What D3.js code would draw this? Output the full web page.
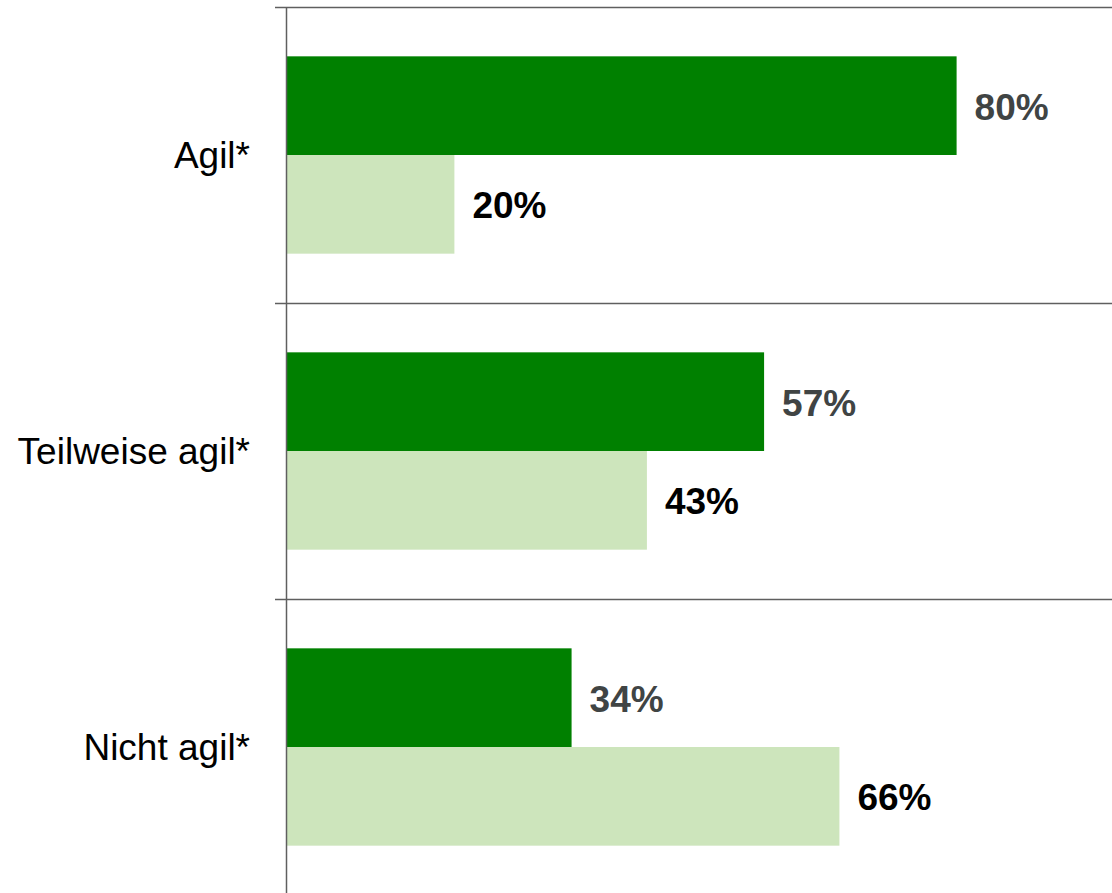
<!DOCTYPE html>
<html>
<head>
<meta charset="utf-8">
<script src="https://cdn.jsdelivr.net/npm/d3@7"></script>
<style>
  body { margin: 0; background: #fff; }
  text { font-family: "Liberation Sans", Arial, sans-serif; }
</style>
</head>
<body>
<div id="chart"></div>
<script>
var categories = ['Agil*', 'Teilweise agil*', 'Nicht agil*'];
var seriesNames = ['dunkel', 'hell'];
var darkValues = [0.80, 0.57, 0.34];
var lightValues = [0.20, 0.43, 0.66];

var colors = { dunkel: '#008000', hell: '#cde5bc' };
var labelColors = { dunkel: '#404444', hell: '#000000' };

var width = 1112;
var height = 893;
var axisX = 287;

var data = categories.map(function(c, i) {
    return { cat: c, values: [
        { key: 'dunkel', v: darkValues[i] },
        { key: 'hell', v: lightValues[i] }
    ] };
});

var svg = d3.select('#chart').append('svg')
    .attr('width', width)
    .attr('height', height);

var x = d3.scaleLinear()
    .domain([0, 1])
    .range([axisX, axisX + 837]);

var y = d3.scaleBand()
    .domain(categories)
    .range([7, 895])
    .paddingInner(0)
    .paddingOuter(0);

var y1 = d3.scaleBand()
    .domain(seriesNames)
    .range([0, y.bandwidth()])
    .paddingInner(0)
    .paddingOuter(0.5);

var groups = svg.selectAll('.group')
    .data(data)
  .enter().append('g')
    .attr('class', 'group')
    .attr('transform', function(d) { return 'translate(0,' + y(d.cat) + ')'; });

groups.selectAll('rect')
    .data(function(d) { return d.values; })
  .enter().append('rect')
    .attr('x', x(0))
    .attr('y', function(d) { return y1(d.key); })
    .attr('width', function(d) { return x(d.v) - x(0); })
    .attr('height', y1.bandwidth())
    .attr('fill', function(d) { return colors[d.key]; });

groups.selectAll('.val')
    .data(function(d) { return d.values; })
  .enter().append('text')
    .attr('class', 'val')
    .attr('x', function(d) { return x(d.v) + 18; })
    .attr('y', function(d) { return y1(d.key) + y1.bandwidth() / 2; })
    .attr('dy', '0.38em')
    .attr('font-size', '37px')
    .attr('font-weight', 'bold')
    .attr('fill', function(d) { return labelColors[d.key]; })
    .text(function(d) { return Math.round(d.v * 100) + '%'; });

// category labels
svg.selectAll('.cat')
    .data(categories)
  .enter().append('text')
    .attr('class', 'cat')
    .attr('x', axisX - 37)
    .attr('y', function(d) { return y(d) + y.bandwidth() / 2; })
    .attr('dy', '0.34em')
    .attr('text-anchor', 'end')
    .attr('font-size', '37px')
    .attr('fill', '#000')
    .text(function(d) { return d; });

// separators between categories
svg.selectAll('.sep')
    .data(categories)
  .enter().append('line')
    .attr('class', 'sep')
    .attr('x1', axisX - 12)
    .attr('x2', width)
    .attr('y1', function(d) { return Math.round(y(d)) + 0.5; })
    .attr('y2', function(d) { return Math.round(y(d)) + 0.5; })
    .attr('stroke', '#5f5f5f')
    .attr('stroke-width', 1.5);

// vertical axis line
svg.append('line')
    .attr('x1', axisX - 0.5)
    .attr('x2', axisX - 0.5)
    .attr('y1', y.range()[0])
    .attr('y2', height)
    .attr('stroke', '#5f5f5f')
    .attr('stroke-width', 1.5);
</script>
</body>
</html>
